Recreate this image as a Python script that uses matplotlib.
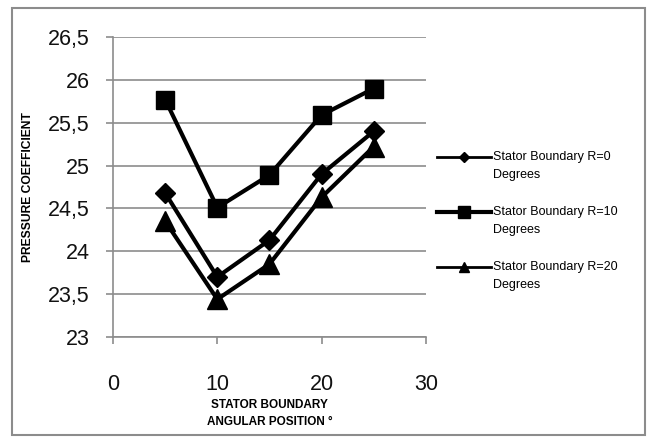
import matplotlib
matplotlib.use("Agg")
import matplotlib.pyplot as plt
from matplotlib.lines import Line2D
from matplotlib.patches import Rectangle
from matplotlib.ticker import FuncFormatter

angles = [5, 10, 15, 20, 25]
r0 = [24.68, 23.70, 24.13, 24.90, 25.40]
r10 = [25.77, 24.51, 24.89, 25.59, 25.90]
r20 = [24.35, 23.44, 23.85, 24.63, 25.22]
labels = [("Stator Boundary R=0", "Degrees"),
          ("Stator Boundary R=10", "Degrees"),
          ("Stator Boundary R=20", "Degrees")]
xticks = [0, 10, 20, 30]
yticks = [23, 23.5, 24, 24.5, 25, 25.5, 26, 26.5]

plt.rcParams['font.family'] = ['Liberation Sans', 'DejaVu Sans']

fig = plt.figure(figsize=(6.5, 4.37), dpi=100)
ax = fig.add_axes([0.174, 0.229, 0.481, 0.686])

ax.plot(angles, r0, color='black', lw=3.0, marker='D', ms=10, zorder=3)
ax.plot(angles, r10, color='black', lw=3.0, marker='s', ms=13, zorder=3)
ax.plot(angles, r20, color='black', lw=3.0, marker='^', ms=14, zorder=3)

ax.set_xlim(0, 30)
ax.set_ylim(23, 26.5)
ax.set_xticks(xticks)
ax.set_yticks(yticks)
fmt = FuncFormatter(lambda v, p: ('%g' % v).replace('.', ','))
ax.yaxis.set_major_formatter(fmt)
ax.xaxis.set_major_formatter(fmt)
ax.grid(axis='y', color='#8c8c8c', lw=1.2)
ax.set_axisbelow(True)
for s in ['top', 'right']:
    ax.spines[s].set_visible(False)
for s in ['left', 'bottom']:
    ax.spines[s].set_color('#8c8c8c')
    ax.spines[s].set_linewidth(1.2)
ax.tick_params(axis='both', colors='#8c8c8c', length=5, width=1.2, labelsize=15.5, labelcolor='#111111')
ax.tick_params(axis='x', pad=22)
ax.tick_params(axis='y', pad=12)

ax.set_ylabel("PRESSURE COEFFICIENT", fontsize=8.7, fontweight='bold')
ax.yaxis.set_label_coords(-0.252, 0.5)
ax.set_xlabel("STATOR BOUNDARY\nANGULAR POSITION \u00b0", fontsize=8.5, fontweight='bold', linespacing=1.6)
ax.xaxis.set_label_coords(0.5, -0.207)

# legend drawn at the right of the plot
handles = [dict(marker='D', ms=5, lw=2.0), dict(marker='s', ms=8, lw=3.0), dict(marker='^', ms=7, lw=2.0)]
ys = [157, 212, 267]
for h, (l1, l2), yp in zip(handles, labels, ys):
    yf = 1 - yp / 437
    fig.add_artist(Line2D([437 / 650, 491 / 650], [yf, yf], transform=fig.transFigure,
                          color='black', lw=h['lw']))
    fig.add_artist(Line2D([464 / 650], [yf], transform=fig.transFigure, color='black',
                          lw=0, marker=h['marker'], ms=h['ms']))
    fig.text(493 / 650, yf, l1, fontsize=9, va='center', ha='left')
    fig.text(493 / 650, 1 - (yp + 18) / 437, l2, fontsize=9, va='center', ha='left')

fig.patches.append(Rectangle((0.019, 0.005), 0.973, 0.977, transform=fig.transFigure,
                             fill=False, edgecolor='#8c8c8c', lw=1.5))

fig.savefig("out.png", dpi=100)
